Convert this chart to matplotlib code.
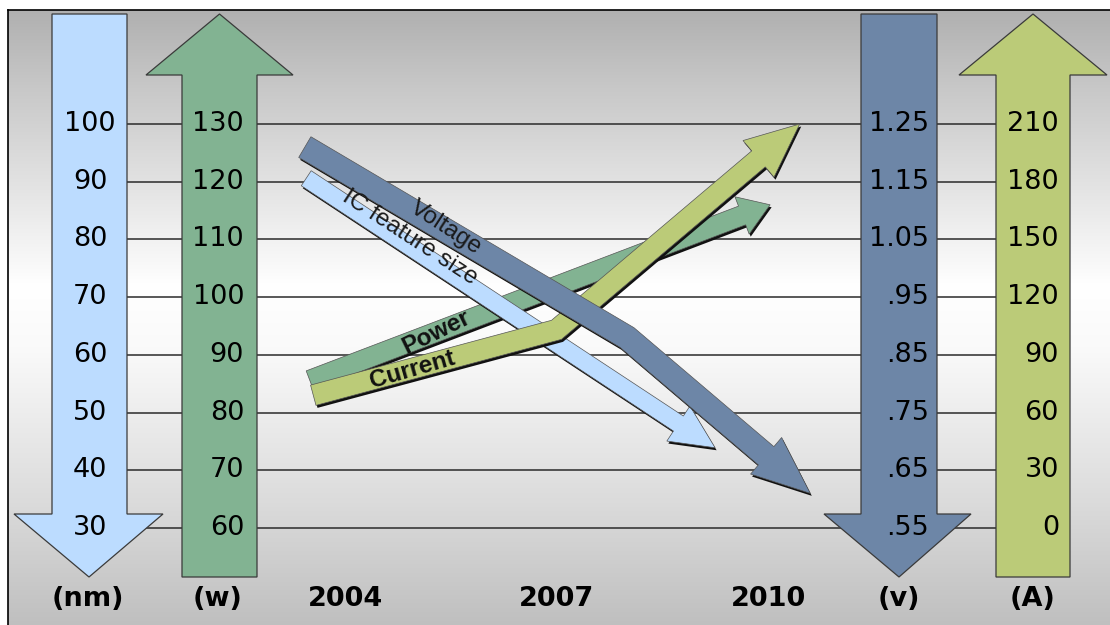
import numpy as np
import matplotlib
matplotlib.use("Agg")
import matplotlib.pyplot as plt
from matplotlib.patches import Polygon
from matplotlib.transforms import blended_transform_factory

# ---------------- data ----------------
nm_ticks = [100, 90, 80, 70, 60, 50, 40, 30]
w_ticks = [130, 120, 110, 100, 90, 80, 70, 60]
v_ticks = [1.25, 1.15, 1.05, 0.95, 0.85, 0.75, 0.65, 0.55]
a_ticks = [210, 180, 150, 120, 90, 60, 30, 0]
year_ticks = [2004, 2007, 2010]
unit_labels = ['(nm)', '(w)', '(v)', '(A)']

ic_years = [2003.45, 2009.25]
ic_nm = [90.6, 43.9]
voltage_years = [2003.43, 2008.0, 2010.6]
voltage_v = [1.21, 0.88, 0.61]
power_years = [2003.5, 2010.03]
power_w = [85.6, 116.0]
current_years = [2003.55, 2007.0, 2010.45]
current_a = [69, 103, 210]

series_names = ['IC feature size', 'Voltage', 'Power', 'Current']

# unit conversions onto the common (nm) vertical scale
def w_to_nm(w): return np.asarray(w, float) - 30.0
def v_to_nm(v): return 30.0 + (np.asarray(v, float) - 0.55) * 100.0
def a_to_nm(a): return 30.0 + np.asarray(a, float) / 3.0

# ---------------- colours ----------------
C_NM = '#bcdcff'
C_W = '#82b392'
C_V = '#6d86a7'
C_A = '#bbcb78'

W, H, DPI = 1110, 625, 100
fig = plt.figure(figsize=(W / DPI, H / DPI), dpi=DPI)
fig.patch.set_facecolor('white')

# background gradient panel
bg = fig.add_axes([8 / W, 0, (W - 8) / W, (H - 10) / H])
t = np.linspace(0, 1, 400)
vals = np.interp(t, [0, 0.12, 0.45, 0.55, 0.8, 1.0], [0.69, 0.78, 1.0, 0.98, 0.86, 0.75])
bg.imshow(np.dstack([vals, vals, vals]).reshape(400, 1, 3),
          aspect='auto', extent=[0, 1, 0, 1])
bg.set_xticks([]); bg.set_yticks([])
for s in ['right', 'bottom']:
    bg.spines[s].set_visible(False)
for s in ['top', 'left']:
    bg.spines[s].set_linewidth(1.2)
    bg.spines[s].set_color('black')

# main data axes
ax = fig.add_axes([0, 0, 1, 1])
ax.patch.set_alpha(0)
x0 = 2004 - 345 / 70.5
ax.set_xlim(x0, x0 + W / 70.5)
ax.set_ylim(100 - (H - 124) / 5.771, 100 + 124 / 5.771)
ax.axis('off')

def P(x, y):
    return (x / W, 1 - y / H)

bt = blended_transform_factory(fig.transFigure, ax.transData)

# gridlines
for v in nm_ticks:
    ax.plot([90 / W, 1033 / W], [v, v], color='#2a2a2a', lw=1.1, transform=bt, zorder=1)

def side_arrow(xl, xr, hl, hr, tip_x, y_far, y_base, y_tip, color):
    pts = [P(xl, y_far), P(xl, y_base), P(hl, y_base), P(tip_x, y_tip),
           P(hr, y_base), P(xr, y_base), P(xr, y_far)]
    ax.add_patch(Polygon(pts, closed=True, transform=fig.transFigure,
                         facecolor=color, edgecolor='#3a3a3a', lw=0.9, zorder=2))

side_arrow(52, 127, 14, 163, 89, 14, 514, 577, C_NM)
side_arrow(182, 257, 146, 293, 219.5, 577, 75, 14, C_W)
side_arrow(861, 937, 824, 971, 899, 14, 514, 577, C_V)
side_arrow(996, 1070, 959, 1107, 1033, 577, 75, 14, C_A)

# tick labels
fs = 19.5
for nm, w, v, a in zip(nm_ticks, w_ticks, v_ticks, a_ticks):
    ax.text(90 / W, nm, str(nm), transform=bt, ha='center', va='center', fontsize=fs, zorder=3)
    ax.text(244 / W, nm, str(w), transform=bt, ha='right', va='center', fontsize=fs, zorder=3)
    vs = f"{v:.2f}"
    if vs.startswith('0'):
        vs = vs[1:]
    ax.text(929 / W, nm, vs, transform=bt, ha='right', va='center', fontsize=fs, zorder=3)
    ax.text(1059 / W, nm, str(a), transform=bt, ha='right', va='center', fontsize=fs, zorder=3)

# bottom labels
yb = 1 - 599 / H
for xpix, lab in zip([88, 218, 899, 1033], unit_labels):
    fig.text(xpix / W, yb, lab, ha='center', va='center', fontsize=fs, fontweight='bold')
for yr in year_ticks:
    ax.text(yr, yb, str(yr), transform=blended_transform_factory(ax.transData, fig.transFigure),
            ha='center', va='center', fontsize=fs, fontweight='bold')

# ---------------- trend arrows ----------------
def unit(v):
    return v / np.hypot(*v)

def perp(u):
    return np.array([-u[1], u[0]])

def arrow_poly(pts, shaft, head_w, head_len):
    pts = np.asarray(pts, float)
    u_last = unit(pts[-1] - pts[-2])
    base = pts[-1] - u_last * head_len
    sp = np.vstack([pts[:-1], base])
    h = shaft / 2.0
    left, right = [], []
    n = len(sp)
    for i in range(n):
        if i == 0:
            off = perp(unit(sp[1] - sp[0])) * h
        elif i == n - 1:
            off = perp(unit(sp[-1] - sp[-2])) * h
        else:
            n1 = perp(unit(sp[i] - sp[i - 1]))
            n2 = perp(unit(sp[i + 1] - sp[i]))
            m = unit(n1 + n2)
            off = m * h / np.dot(m, n1)
        left.append(sp[i] + off)
        right.append(sp[i] - off)
    nl = perp(u_last)
    poly = left + [base + nl * head_w / 2, pts[-1], base - nl * head_w / 2] + right[::-1]
    return np.array(poly)

def draw_trend(xs, ys_nm, color, shaft, head_w, head_len, z):
    disp = ax.transData.transform(np.column_stack([xs, ys_nm]))
    poly = arrow_poly(disp, shaft, head_w, head_len)
    inv = ax.transData.inverted()
    shadow = inv.transform(poly + np.array([1.5, -2.5]))
    ax.add_patch(Polygon(shadow, closed=True, facecolor='#111111', edgecolor='none', zorder=z))
    ax.add_patch(Polygon(inv.transform(poly), closed=True, facecolor=color,
                         edgecolor='#555555', lw=0.5, zorder=z + 0.1))

draw_trend(power_years, w_to_nm(power_w), C_W, 20, 40, 30, 4)
draw_trend(ic_years, ic_nm, C_NM, 18, 42, 44, 5)
draw_trend(current_years, a_to_nm(current_a), C_A, 21, 48, 54, 6)
draw_trend(voltage_years, v_to_nm(voltage_v), C_V, 24, 48, 58, 7)

lab_fs = 17.5
LF = ['Liberation Sans', 'DejaVu Sans']
ax.text(2004.92, 80.3, series_names[0], rotation=-33, ha='center', va='center',
        fontsize=lab_fs, family=LF, color='#1a1a1a', zorder=9)
ax.text(2005.43, 82.0, series_names[1], rotation=-33, ha='center', va='center',
        fontsize=lab_fs, family=LF, color='#1a1a1a', zorder=9)
ax.text(2005.30, 64.0, series_names[2], rotation=26, ha='center', va='center',
        fontsize=lab_fs, family=LF, fontweight='bold', color='#111111', zorder=9)
ax.text(2004.95, 57.4, series_names[3], rotation=16, ha='center', va='center',
        fontsize=lab_fs, family=LF, fontweight='bold', color='#111111', zorder=9)

fig.savefig('out.png', dpi=DPI)
